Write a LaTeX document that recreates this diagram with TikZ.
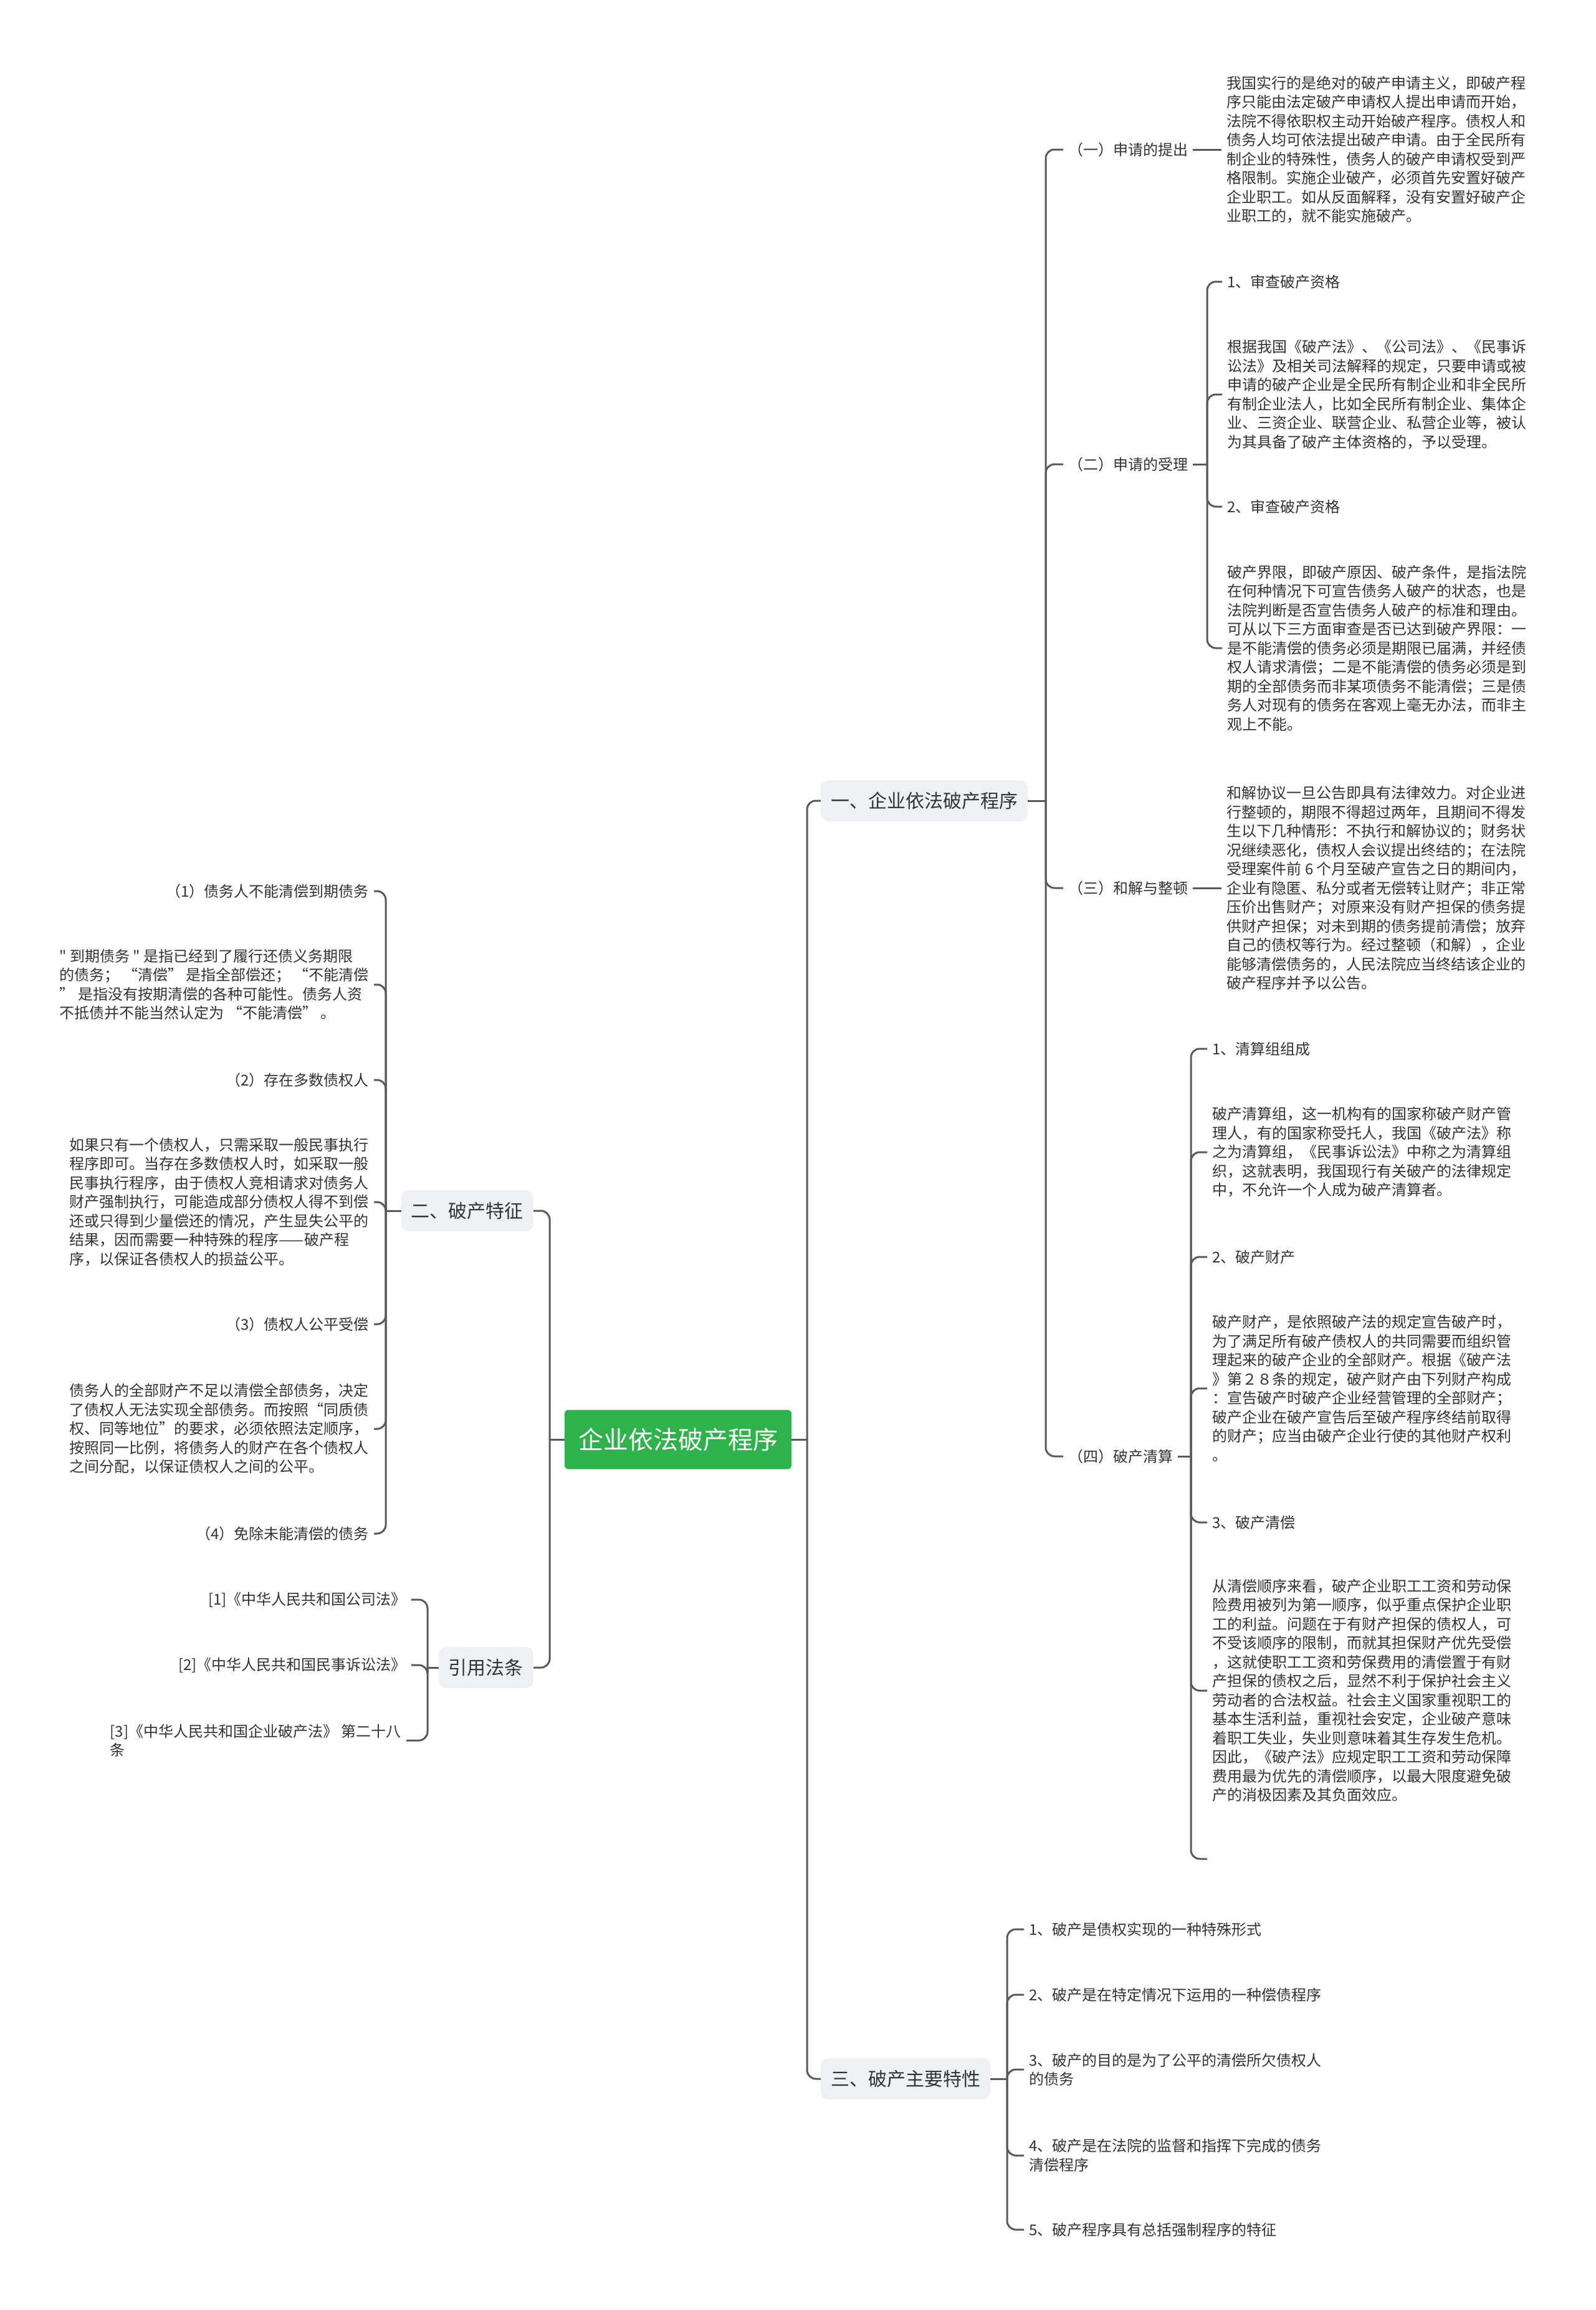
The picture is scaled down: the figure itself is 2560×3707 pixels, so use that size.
\documentclass[tikz,border=0pt]{standalone}
\usepackage{fontspec}
\setmainfont{Noto Sans CJK SC}[Ligatures=TeXOff]
\usetikzlibrary{positioning}

\definecolor{rootgreen}{HTML}{2DB34A}
\definecolor{topicfill}{HTML}{EEF1F4}
\definecolor{linkgray}{HTML}{595959}
\definecolor{textgray}{HTML}{333333}

\begin{document}
\begin{tikzpicture}[
  x=1pt, y=-1pt,
  rootbox/.style={fill=rootgreen, text=white, rounded corners=6pt,
                  font=\fontsize{40}{48}\selectfont, inner xsep=22pt, minimum height=95pt},
  topic/.style={fill=topicfill, text=textgray, rounded corners=12pt,
                font=\fontsize{30}{36}\selectfont, inner xsep=16pt, minimum height=66pt},
  leaf/.style={text=textgray, font=\fontsize{24}{30.5}\selectfont,
               align=left, inner xsep=8pt, inner ysep=2pt},
  link/.style={draw=linkgray, line width=3pt, rounded corners=14pt}
]
\fill[white] (0,0) rectangle (2560,3707);

% centre and main branches
\node[rootbox] (root) at (1088,2310) {企业依法破产程序};
\node[topic, anchor=west] (proc) at (1317,1285) {一、企业依法破产程序};
\node[topic, anchor=west] (trait) at (1317,3336) {三、破产主要特性};
\node[topic, anchor=east] (feat) at (856,1943) {二、破产特征};
\node[topic, anchor=east] (law) at (856,2676) {引用法条};

% junctions
\coordinate (rj) at (1295,2310);
\coordinate (lj) at (882,2310);
\coordinate (procj) at (1678,1285);
\coordinate (acceptj) at (1937,745);
\coordinate (liqj) at (1911,2337);
\coordinate (liqend) at (1937,2983);
\coordinate (featj) at (619,1943);
\coordinate (lawj) at (686,2676);
\coordinate (traitj) at (1616,3336);

% 一 branch
\node[leaf, anchor=west] (apply) at (1706,240) {（一）申请的提出};
\node[leaf, right=46pt of apply] (applytxt)
  {我国实行的是绝对的破产申请主义，即破产程\\
   序只能由法定破产申请权人提出申请而开始，\\
   法院不得依职权主动开始破产程序。债权人和\\
   债务人均可依法提出破产申请。由于全民所有\\
   制企业的特殊性，债务人的破产申请权受到严\\
   格限制。实施企业破产，必须首先安置好破产\\
   企业职工。如从反面解释，没有安置好破产企\\
   业职工的，就不能实施破产。};

\node[leaf, anchor=west] (accept) at (1706,745) {（二）申请的受理};
\node[leaf, anchor=west] (acc1) at (1961,452) {1、审查破产资格};
\node[leaf, anchor=west] (acc1txt) at (1961,633)
  {根据我国《破产法》、《公司法》、《民事诉\\
   讼法》及相关司法解释的规定，只要申请或被\\
   申请的破产企业是全民所有制企业和非全民所\\
   有制企业法人，比如全民所有制企业、集体企\\
   业、三资企业、联营企业、私营企业等，被认\\
   为其具备了破产主体资格的，予以受理。};
\node[leaf, anchor=west] (acc2) at (1961,813) {2、审查破产资格};
\node[leaf, anchor=west] (acc2txt) at (1961,1040)
  {破产界限，即破产原因、破产条件，是指法院\\
   在何种情况下可宣告债务人破产的状态，也是\\
   法院判断是否宣告债务人破产的标准和理由。\\
   可从以下三方面审查是否已达到破产界限：一\\
   是不能清偿的债务必须是期限已届满，并经债\\
   权人请求清偿；二是不能清偿的债务必须是到\\
   期的全部债务而非某项债务不能清偿；三是债\\
   务人对现有的债务在客观上毫无办法，而非主\\
   观上不能。};

\node[leaf, anchor=west] (settle) at (1706,1425) {（三）和解与整顿};
\node[leaf, right=46pt of settle] (settletxt)
  {和解协议一旦公告即具有法律效力。对企业进\\
   行整顿的，期限不得超过两年，且期间不得发\\
   生以下几种情形：不执行和解协议的；财务状\\
   况继续恶化，债权人会议提出终结的；在法院\\
   受理案件前 6 个月至破产宣告之日的期间内，\\
   企业有隐匿、私分或者无偿转让财产；非正常\\
   压价出售财产；对原来没有财产担保的债务提\\
   供财产担保；对未到期的债务提前清偿；放弃\\
   自己的债权等行为。经过整顿（和解），企业\\
   能够清偿债务的，人民法院应当终结该企业的\\
   破产程序并予以公告。};

\node[leaf, anchor=west] (liq) at (1706,2337) {（四）破产清算};
\node[leaf, anchor=west] (liq1) at (1937,1683) {1、清算组组成};
\node[leaf, anchor=west] (liq1txt) at (1937,1849)
  {破产清算组，这一机构有的国家称破产财产管\\
   理人，有的国家称受托人，我国《破产法》称\\
   之为清算组，《民事诉讼法》中称之为清算组\\
   织，这就表明，我国现行有关破产的法律规定\\
   中，不允许一个人成为破产清算者。};
\node[leaf, anchor=west] (liq2) at (1937,2017) {2、破产财产};
\node[leaf, anchor=west] (liq2txt) at (1937,2228)
  {破产财产，是依照破产法的规定宣告破产时，\\
   为了满足所有破产债权人的共同需要而组织管\\
   理起来的破产企业的全部财产。根据《破产法\\
   》第２８条的规定，破产财产由下列财产构成\\
   ：宣告破产时破产企业经营管理的全部财产；\\
   破产企业在破产宣告后至破产程序终结前取得\\
   的财产；应当由破产企业行使的其他财产权利\\
   。};
\node[leaf, anchor=west] (liq3) at (1937,2443) {3、破产清偿};
\node[leaf, anchor=west] (liq3txt) at (1937,2713)
  {从清偿顺序来看，破产企业职工工资和劳动保\\
   险费用被列为第一顺序，似乎重点保护企业职\\
   工的利益。问题在于有财产担保的债权人，可\\
   不受该顺序的限制，而就其担保财产优先受偿\\
   ，这就使职工工资和劳保费用的清偿置于有财\\
   产担保的债权之后，显然不利于保护社会主义\\
   劳动者的合法权益。社会主义国家重视职工的\\
   基本生活利益，重视社会安定，企业破产意味\\
   着职工失业，失业则意味着其生存发生危机。\\
   因此，《破产法》应规定职工工资和劳动保障\\
   费用最为优先的清偿顺序，以最大限度避免破\\
   产的消极因素及其负面效应。};

% 二 branch
\node[leaf, anchor=east] (f1) at (600,1430) {（1）债务人不能清偿到期债务};
\node[leaf, anchor=east] (f1txt) at (600,1580)
  {" 到期债务 " 是指已经到了履行还债义务期限\\
   的债务； “清偿” 是指全部偿还； “不能清偿\\
   ” 是指没有按期清偿的各种可能性。债务人资\\
   不抵债并不能当然认定为 “不能清偿” 。};
\node[leaf, anchor=east] (f2) at (600,1733) {（2）存在多数债权人};
\node[leaf, anchor=east] (f2txt) at (600,1929)
  {如果只有一个债权人，只需采取一般民事执行\\
   程序即可。当存在多数债权人时，如采取一般\\
   民事执行程序，由于债权人竞相请求对债务人\\
   财产强制执行，可能造成部分债权人得不到偿\\
   还或只得到少量偿还的情况，产生显失公平的\\
   结果，因而需要一种特殊的程序——破产程\\
   序，以保证各债权人的损益公平。};
\node[leaf, anchor=east] (f3) at (600,2125) {（3）债权人公平受偿};
\node[leaf, anchor=east] (f3txt) at (600,2293)
  {债务人的全部财产不足以清偿全部债务，决定\\
   了债权人无法实现全部债务。而按照“同质债\\
   权、同等地位”的要求，必须依照法定顺序，\\
   按照同一比例，将债务人的财产在各个债权人\\
   之间分配，以保证债权人之间的公平。};
\node[leaf, anchor=east] (f4) at (600,2461) {（4）免除未能清偿的债务};

% 引用法条 branch
\node[leaf, anchor=east] (law1) at (660,2567) {[1]《中华人民共和国公司法》};
\node[leaf, anchor=east] (law2) at (660,2672) {[2]《中华人民共和国民事诉讼法》};
\node[leaf, anchor=east] (law3) at (652,2793)
  {[3]《中华人民共和国企业破产法》 第二十八\\条};

% 三 branch
\node[leaf, anchor=west] (t1) at (1643,3096) {1、破产是债权实现的一种特殊形式};
\node[leaf, anchor=west] (t2) at (1643,3201) {2、破产是在特定情况下运用的一种偿债程序};
\node[leaf, anchor=west] (t3) at (1643,3321)
  {3、破产的目的是为了公平的清偿所欠债权人\\的债务};
\node[leaf, anchor=west] (t4) at (1643,3459)
  {4、破产是在法院的监督和指挥下完成的债务\\清偿程序};
\node[leaf, anchor=west] (t5) at (1643,3578) {5、破产程序具有总括强制程序的特征};

% connectors
\draw[link] (root.east) -- (rj);
\draw[link] (root.west) -- (lj);
\foreach \c in {proc,trait} \draw[link] (rj) |- (\c.west);
\foreach \c in {feat,law} \draw[link] (lj) |- (\c.east);

\draw[link] (proc.east) -- (procj);
\foreach \c in {apply,accept,settle,liq} \draw[link] (procj) |- (\c.west);
\draw[link] (apply.east) -- (applytxt.west);
\draw[link] (settle.east) -- (settletxt.west);
\draw[link] (accept.east) -- (acceptj);
\foreach \c in {acc1,acc1txt,acc2,acc2txt} \draw[link] (acceptj) |- (\c.west);
\draw[link] (liq.east) -- (liqj);
\foreach \c in {liq1,liq1txt,liq2,liq2txt,liq3,liq3txt} \draw[link] (liqj) |- (\c.west);
\draw[link] (liqj) |- (liqend);

\draw[link] (feat.west) -- (featj);
\foreach \c in {f1,f1txt,f2,f2txt,f3,f3txt,f4} \draw[link] (featj) |- (\c.east);
\draw[link] (law.west) -- (lawj);
\foreach \c in {law1,law2,law3} \draw[link] (lawj) |- (\c.east);
\draw[link] (trait.east) -- (traitj);
\foreach \c in {t1,t2,t3,t4,t5} \draw[link] (traitj) |- (\c.west);
\end{tikzpicture}
\end{document}
